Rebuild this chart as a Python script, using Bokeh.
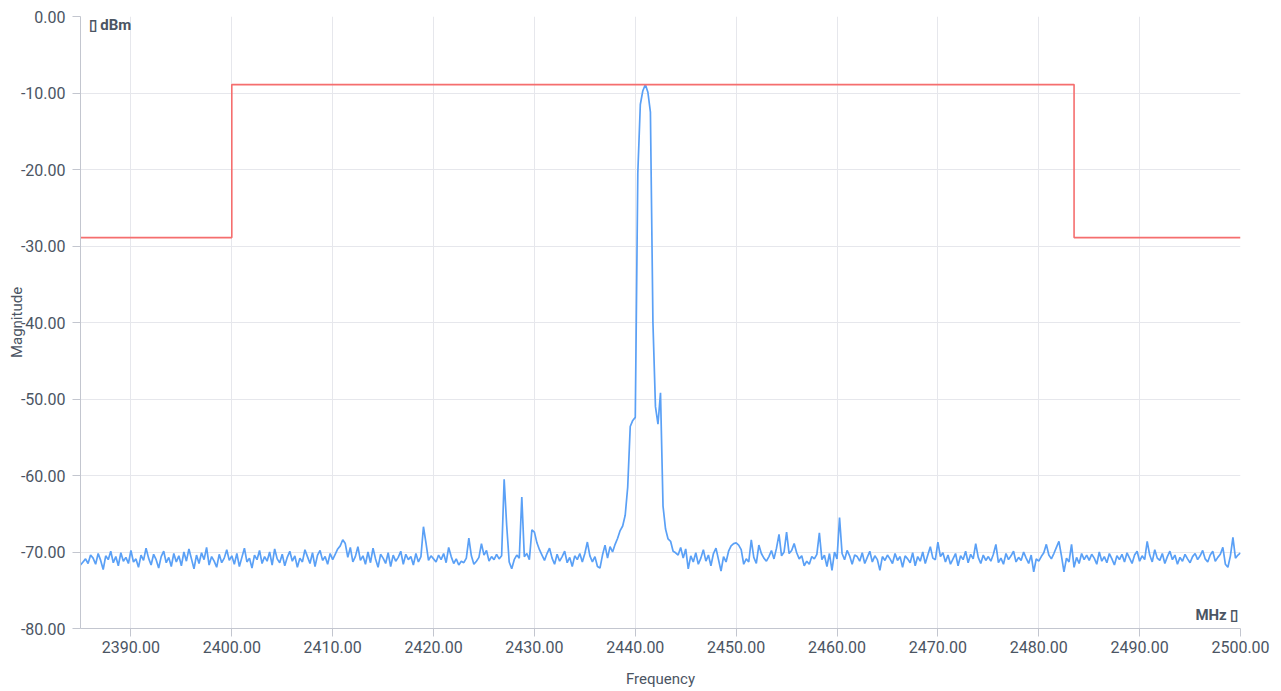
import numpy as np
from bokeh.plotting import figure
from bokeh.models import FixedTicker, PrintfTickFormatter, Label, Range1d
from bokeh.embed import file_html
from bokeh.resources import INLINE

# ---- data ----
freq_start = 2385.0
freq_step = 0.25
magnitude_dbm = [
    -71.7,-71.3,-70.9,-71.5,-70.4,-70.8,-71.6,-70.2,-71.1,-72.3,-70.5,-71.0,-69.9,-71.4,-70.6,-71.8,-70.1,-71.2,-70.7,-71.5,
    -69.8,-71.3,-70.9,-72.0,-70.4,-71.1,-69.5,-70.8,-71.7,-70.3,-71.0,-72.1,-70.6,-69.9,-71.4,-70.7,-71.9,-70.2,-71.3,-70.5,
    -71.8,-70.0,-71.2,-69.6,-70.9,-72.2,-70.4,-71.5,-70.1,-71.0,-69.4,-71.7,-70.6,-71.2,-72.0,-70.3,-71.4,-70.8,-69.7,-71.1,
    -70.5,-71.6,-70.2,-71.9,-70.7,-69.5,-71.3,-70.8,-72.1,-70.4,-71.0,-69.8,-71.5,-70.6,-71.2,-70.0,-71.7,-69.6,-70.9,-71.4,
    -70.3,-71.8,-70.7,-69.9,-71.2,-70.5,-72.0,-70.8,-71.3,-69.7,-70.6,-71.5,-70.1,-71.9,-70.4,-69.8,-71.1,-70.6,-71.6,-70.2,
    -71.0,-70.3,-69.6,-69.2,-68.4,-68.9,-70.7,-69.4,-71.3,-70.6,-69.3,-71.1,-70.5,-71.6,-70.0,-71.4,-69.5,-70.9,-72.0,-70.3,
    -70.8,-71.5,-70.1,-71.9,-70.4,-71.2,-70.7,-69.9,-71.6,-70.3,-71.0,-70.6,-71.7,-70.2,-71.3,-70.6,-66.7,-68.8,-71.1,-70.5,
    -70.9,-71.3,-70.4,-71.0,-70.2,-71.4,-69.4,-70.6,-71.5,-70.9,-71.7,-71.2,-71.4,-70.8,-68.2,-70.5,-71.6,-71.2,-70.7,-68.9,
    -70.4,-69.8,-71.2,-70.6,-71.0,-70.3,-70.9,-70.5,-60.5,-66.5,-71.3,-72.2,-71.0,-70.4,-70.8,-62.8,-70.6,-70.2,-71.0,-67.1,
    -67.4,-68.8,-69.7,-70.4,-71.1,-70.2,-69.5,-70.8,-71.6,-70.3,-71.2,-70.6,-69.9,-71.4,-70.7,-71.9,-70.5,-71.0,-70.2,-71.3,
    -70.2,-68.7,-70.5,-71.3,-70.6,-71.9,-72.1,-70.4,-69.1,-70.8,-69.3,-70.0,-69.0,-68.2,-67.2,-66.6,-65.2,-61.5,-53.6,-52.8,
    -52.4,-20.5,-11.5,-9.7,-8.9,-9.9,-12.5,-40.0,-51.0,-53.3,-49.2,-64.0,-67.0,-68.3,-68.6,-69.9,-70.1,-70.4,-69.4,-70.8,
    -69.6,-72.2,-70.5,-71.3,-70.1,-71.6,-70.8,-69.7,-71.2,-70.4,-71.8,-70.2,-69.5,-71.0,-72.5,-70.6,-71.3,-69.9,-69.2,-68.9,
    -68.8,-69.1,-69.7,-71.6,-70.9,-71.3,-68.4,-70.7,-71.5,-69.1,-70.2,-70.8,-71.2,-70.6,-69.8,-70.9,-69.5,-67.7,-70.5,-70.0,
    -67.4,-70.2,-69.8,-68.9,-70.1,-70.9,-70.5,-71.8,-71.2,-71.6,-70.6,-70.9,-70.3,-67.5,-71.0,-70.4,-71.9,-70.2,-72.4,-70.0,
    -70.9,-65.5,-70.2,-71.0,-69.8,-70.5,-71.6,-70.4,-70.6,-71.2,-70.1,-71.5,-70.7,-69.9,-71.3,-70.5,-71.0,-72.4,-70.6,-71.1,
    -70.4,-70.9,-71.5,-70.2,-71.1,-70.6,-72.0,-70.5,-70.9,-71.4,-70.1,-71.8,-70.6,-71.2,-70.0,-71.5,-70.4,-69.3,-70.8,-71.0,
    -68.7,-70.6,-70.1,-71.3,-70.4,-71.6,-70.9,-70.2,-71.8,-70.5,-71.0,-69.9,-71.4,-70.3,-70.9,-68.9,-70.7,-71.5,-70.4,-71.1,
    -70.6,-71.2,-70.3,-69.0,-71.4,-70.8,-71.6,-70.2,-71.0,-70.5,-69.9,-71.3,-70.7,-71.1,-70.0,-70.8,-71.5,-70.4,-72.6,-70.9,
    -71.2,-70.6,-70.1,-69.0,-70.4,-70.9,-70.2,-69.4,-68.6,-70.5,-72.6,-70.8,-71.3,-69.0,-72.0,-70.7,-71.5,-70.2,-71.0,-70.4,
    -71.1,-70.3,-70.8,-71.6,-70.0,-71.2,-70.6,-71.4,-70.2,-70.9,-71.7,-70.5,-71.0,-70.3,-71.3,-70.1,-70.8,-71.5,-70.4,-69.9,
    -71.2,-70.5,-71.0,-68.6,-70.4,-71.3,-69.7,-70.8,-71.1,-70.2,-71.5,-70.6,-69.9,-71.0,-70.4,-71.6,-70.7,-71.2,-70.3,-70.9,
    -71.4,-70.6,-70.2,-71.0,-70.5,-69.8,-70.9,-71.3,-70.4,-69.9,-71.2,-70.7,-70.3,-69.4,-71.6,-72.0,-70.5,-68.1,-70.8,-70.4,
    -70.1,
]
mask_freq = [2385.0, 2400.0, 2483.5, 2500.0]
mask_level = [-28.9, -8.9, -28.9, -28.9]
x_ticks = [2390, 2400, 2410, 2420, 2430, 2440, 2450, 2460, 2470, 2480, 2490, 2500]
y_ticks = [-80, -70, -60, -50, -40, -30, -20, -10, 0]
y_unit = "\u25af dBm"
x_unit = "MHz \u25af"

freqs = freq_start + freq_step * np.arange(len(magnitude_dbm))

TEXT = "#4b5563"
GRID = "#e6e7ec"
AXIS = "#c3c6cf"
FONT = "Roboto"

p = figure(output_backend="svg", toolbar_location=None,
           x_range=Range1d(2385, 2500), y_range=Range1d(-80, 0),
           min_border_left=80, min_border_right=33, min_border_top=16, min_border_bottom=55,
           frame_width=1160, frame_height=612)
p.outline_line_color = None
p.background_fill_color = "white"
p.border_fill_color = "white"

p.line(freqs, magnitude_dbm, line_color="#5aa0f6", line_width=1.7)
p.step(mask_freq, mask_level, mode="after", line_color="#f56e6e", line_width=1.6)

for ax in (p.xaxis[0], p.yaxis[0]):
    ax.axis_line_color = AXIS
    ax.major_tick_line_color = AXIS
    ax.major_tick_out = 8
    ax.major_tick_in = 0
    ax.minor_tick_line_color = None
    ax.major_label_text_color = TEXT
    ax.major_label_text_font = FONT
    ax.major_label_text_font_size = "16px"
    ax.axis_label_text_color = TEXT
    ax.axis_label_text_font = FONT
    ax.axis_label_text_font_size = "15px"
    ax.axis_label_text_font_style = "normal"
    ax.formatter = PrintfTickFormatter(format="%.2f")

p.xaxis.ticker = FixedTicker(ticks=x_ticks)
p.yaxis.ticker = FixedTicker(ticks=y_ticks)
p.xaxis.axis_label = "Frequency"
p.yaxis.axis_label = "Magnitude"
p.xaxis.major_label_standoff = 4
p.yaxis.major_label_standoff = 7
p.xaxis.axis_label_standoff = 14
p.yaxis.axis_label_standoff = -8

p.xgrid.grid_line_color = GRID
p.ygrid.grid_line_color = GRID
p.xgrid.ticker = FixedTicker(ticks=x_ticks)
p.ygrid.ticker = FixedTicker(ticks=y_ticks)

p.add_layout(Label(x=2385.8, y=-1.05, text=y_unit, text_align="left", text_baseline="middle",
                   text_font=FONT, text_font_size="15px", text_font_style="bold", text_color=TEXT))
p.add_layout(Label(x=2499.8, y=-78.3, text=x_unit, text_align="right", text_baseline="middle",
                   text_font=FONT, text_font_size="15px", text_font_style="bold", text_color=TEXT))

open("out.html", "w").write(file_html(p, INLINE))
